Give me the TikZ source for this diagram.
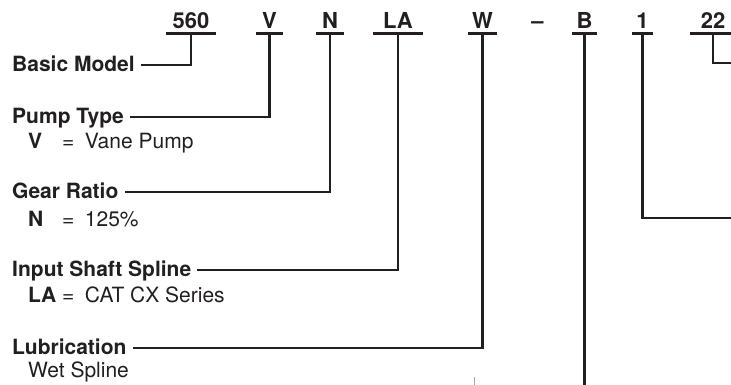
\documentclass[tikz,border=0pt]{standalone}
\usepackage{fontspec}
\setmainfont{TeX Gyre Heros}
\usepackage{xcolor}
\usepackage{tikz}
\usetikzlibrary{positioning, calc}
\definecolor{ink}{HTML}{231F20}
\tikzstyle{code}   = [font=\fontsize{22}{24}\selectfont\bfseries, text=ink, inner xsep=0pt, inner ysep=5pt, text depth=0pt, anchor=base]
\tikzstyle{field}  = [font=\fontsize{21}{24}\selectfont\bfseries, text=ink, anchor=west, inner xsep=6pt, inner ysep=0pt, text height=14pt, text depth=2pt]
\tikzstyle{option} = [font=\fontsize{21}{24}\selectfont, text=ink, anchor=base west, inner sep=0pt]
\tikzstyle{lead}   = [draw=ink, line width=2.8pt]
\newcommand{\optline}[2]{\makebox[34pt][l]{\bfseries #1}=\hspace{10.5pt}#2}

\begin{document}
\begin{tikzpicture}[x=1pt, y=-1pt]
\useasboundingbox (0,0) rectangle (731,384);
\clip (0,0) rectangle (731,384);

% Model code along the top
\node (n560) [code, minimum width=50pt] at (191,28) {560};
\node (nV)   [code, minimum width=27pt] at (269.5,28) {V};
\node (nN)   [code, minimum width=27pt] at (330,28) {N};
\node (nLA)  [code, minimum width=50pt] at (398,28) {LA};
\node (nW)   [code, minimum width=29pt] at (482.5,28) {W};
\node (ndash)[code] at (537.5,28) {--};
\node (nB)   [code, minimum width=25pt] at (584.5,28) {B};
\node (n1)   [code, minimum width=20pt] at (642.5,28) {1};
\node (n22)  [code, minimum width=46pt] at (713,28) {22};

% Field names down the left
\node (basic) [field] at (6,65)  {Basic Model};
\node (pump)  [field] at (6,117) {Pump Type};
\node (gear)  [field] at (6,192) {Gear Ratio};
\node (shaft) [field] at (6,270) {Input Shaft Spline};
\node (lube)  [field] at (6,348) {Lubrication};

\node (pumpV)  [option] at (28,148) {\optline{V}{Vane Pump}};
\node (gearN)  [option] at (28,226) {\optline{N}{125\%}};
\node (shaftLA)[option] at (28,302) {\optline{LA}{CAT CX Series}};
\node (lubeW)  [option] at (28,377) {Wet Spline};

% Ends running off the page
\coordinate (eB)  at (584.5,390);
\coordinate (e1)  at (740,218);
\coordinate (e22) at (740,63);

% Underlines
\foreach \n in {n560,nV,nN,nLA,nW,nB,n1,n22}
  \draw [lead] (\n.south west) -- (\n.south east);

% Leaders to the fields
\draw [lead] (n560.south) |- (basic.east);
\draw [lead] (nV.south) |- (pump.east);
\draw [lead] (nN.south) |- (gear.east);
\draw [lead] (nLA.south) |- (shaft.east);
\draw [lead] (nW.south) |- (lube.east);
\draw [lead] (nB.south) -- (nB.south |- eB);
\draw [lead] (n1.south) |- (e1);
\draw [lead] (n22.south) |- (e22);

\draw [gray!70, line width=0.8pt] (474,377) -- (474,390);

\end{tikzpicture}
\end{document}
